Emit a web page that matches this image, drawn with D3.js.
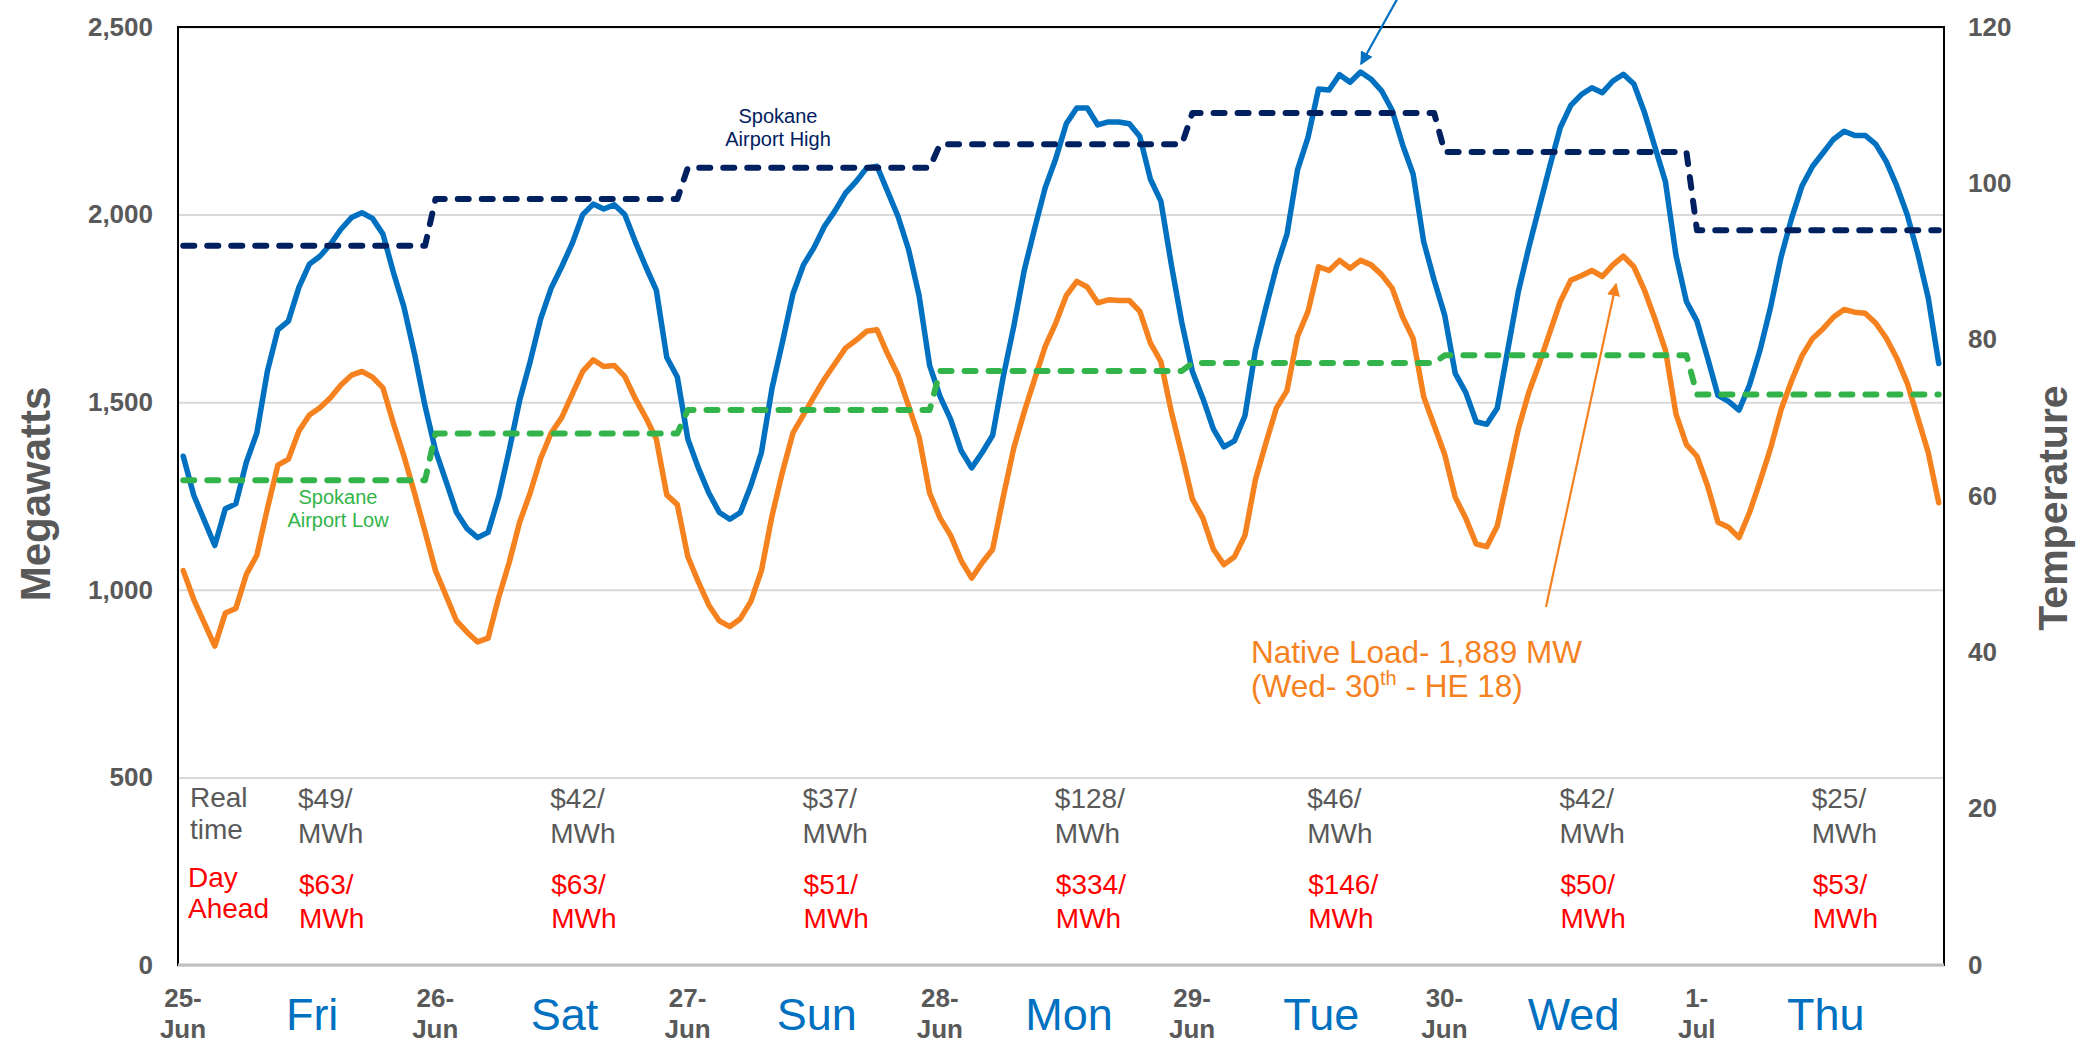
<!DOCTYPE html>
<html>
<head>
<meta charset="utf-8">
<script src="https://cdn.jsdelivr.net/npm/d3@7"></script>
<style>
  body { margin: 0; background: #fff; }
  svg { display: block; font-family: "Liberation Sans", Arial, sans-serif; }
</style>
</head>
<body>
<div id="chart"></div>
<script>
// hourly loads, HE1 of 25-Jun through HE24 of 1-Jul (MW)
const areaLoad = [
  1356,1252,1185,1118,1216,1229,1340,1418,1582,1693,
  1716,1806,1868,1889,1921,1961,1992,2005,1990,1948,
  1845,1753,1629,1490,1371,1289,1206,1163,1139,1153,
  1247,1371,1505,1608,1722,1804,1861,1923,2000,2028,
  2015,2026,2000,1928,1861,1799,1619,1567,1402,1325,
  1258,1206,1188,1206,1278,1366,1536,1660,1789,1866,
  1912,1969,2010,2057,2088,2124,2129,2062,1995,1907,
  1784,1598,1515,1454,1371,1325,1366,1412,1567,1701,
  1851,1964,2072,2149,2242,2284,2284,2239,2247,2247,
  2242,2208,2095,2036,1866,1711,1582,1510,1428,1381,
  1397,1464,1639,1753,1861,1948,2119,2206,2335,2332,
  2373,2353,2380,2361,2330,2278,2186,2108,1928,1825,
  1732,1577,1526,1448,1441,1484,1639,1794,1912,2021,
  2129,2232,2291,2320,2338,2325,2356,2374,2348,2273,
  2180,2088,1892,1768,1716,1619,1518,1502,1479,1546,
  1639,1753,1887,1990,2077,2129,2165,2201,2222,2211,
  2211,2188,2142,2077,2000,1897,1778,1603
];
const nativeLoad = [
  1051,974,912,850,938,950,1041,1092,1216,1332,
  1348,1423,1466,1485,1512,1546,1572,1582,1567,1538,
  1443,1356,1258,1155,1051,984,917,887,861,871,
  979,1072,1180,1258,1350,1418,1459,1521,1582,1613,
  1595,1598,1569,1510,1459,1402,1253,1227,1088,1021,
  959,917,902,923,969,1051,1196,1314,1418,1466,
  1515,1562,1603,1644,1665,1689,1693,1629,1572,1490,
  1407,1258,1191,1145,1078,1031,1072,1108,1247,1377,
  1474,1562,1649,1711,1784,1822,1807,1765,1773,1771,
  1771,1742,1658,1608,1474,1361,1242,1191,1108,1067,
  1088,1145,1294,1392,1485,1531,1675,1742,1861,1851,
  1878,1857,1878,1866,1840,1804,1727,1670,1515,1438,
  1361,1247,1191,1122,1115,1170,1299,1428,1526,1603,
  1686,1768,1825,1837,1851,1835,1866,1889,1861,1799,
  1722,1639,1469,1387,1356,1278,1180,1167,1139,1206,
  1289,1377,1480,1557,1624,1670,1696,1727,1747,1740,
  1737,1711,1671,1618,1551,1459,1366,1232
];

const dates = ['25-Jun','26-Jun','27-Jun','28-Jun','29-Jun','30-Jun','1-Jul'];
const days = ['Fri','Sat','Sun','Mon','Tue','Wed','Thu'];
const highTemp = [92,98,102,105,109,104,94];
const lowTemp = [62,68,71,76,77,78,73];
const realTime = ['$49/','$42/','$37/','$128/','$46/','$42/','$25/'];
const dayAhead = ['$63/','$63/','$51/','$334/','$146/','$50/','$53/'];
const mwTicks = [0,500,1000,1500,2000,2500];
const tempTicks = [0,20,40,60,80,100,120];

const width = 2084, height = 1046;
const plotL = 178, plotR = 1944, plotT = 27, plotB = 965;
const grey = '#595959';

const x = d3.scaleLinear().domain([0, 168]).range([plotL, plotR]);
const y = d3.scaleLinear().domain([0, 2500]).range([plotB, plotT]);
const yT = d3.scaleLinear().domain([0, 120]).range([plotB, plotT]);

const svg = d3.select('#chart').append('svg')
  .attr('width', width).attr('height', height);
svg.append('rect').attr('width', width).attr('height', height).attr('fill', '#fff');

// gridlines
svg.append('g')
  .attr('transform', `translate(${plotL},0)`)
  .call(d3.axisLeft(y).tickValues(mwTicks).tickSize(-(plotR - plotL)).tickFormat(''))
  .call(g => g.select('.domain').remove())
  .call(g => g.selectAll('line').attr('stroke', '#d9d9d9').attr('stroke-width', 2));

// left axis labels
svg.append('g')
  .attr('transform', `translate(${plotL - 25},0)`)
  .call(d3.axisLeft(y).tickValues(mwTicks).tickSize(0).tickFormat(d3.format(',')))
  .call(g => g.select('.domain').remove())
  .call(g => g.selectAll('text')
    .attr('x', 0).attr('fill', grey)
    .style('font-size', '26px').style('font-weight', 'bold')
    .style('font-family', '"Liberation Sans", Arial, sans-serif'));

// right axis labels
svg.append('g')
  .attr('transform', `translate(${plotR + 24},0)`)
  .call(d3.axisRight(yT).tickValues(tempTicks).tickSize(0))
  .call(g => g.select('.domain').remove())
  .call(g => g.selectAll('text')
    .attr('x', 0).attr('fill', grey)
    .style('font-size', '26px').style('font-weight', 'bold')
    .style('font-family', '"Liberation Sans", Arial, sans-serif'));

// plot frame
svg.append('rect')
  .attr('x', plotL).attr('y', plotT)
  .attr('width', plotR - plotL).attr('height', plotB - plotT)
  .attr('fill', 'none').attr('stroke', '#000').attr('stroke-width', 2);
svg.append('line')
  .attr('x1', plotL).attr('x2', plotR).attr('y1', plotB).attr('y2', plotB)
  .attr('stroke', '#bfbfbf').attr('stroke-width', 3);

// load lines
const hours = d3.range(168);
function drawLine(values, scale, color, dash) {
  const line = d3.line()
    .x((d, i) => x(i + 0.5))
    .y(d => scale(d));
  svg.append('path')
    .datum(values)
    .attr('d', line)
    .attr('fill', 'none')
    .attr('stroke', color)
    .attr('stroke-width', dash ? 6 : 5.5)
    .attr('stroke-linejoin', 'round')
    .attr('stroke-linecap', 'round')
    .attr('stroke-dasharray', dash || null);
}
drawLine(areaLoad, y, '#0070c0');
drawLine(nativeLoad, y, '#f5821f');

// daily temperatures carried on every hour of the day
drawLine(hours.map(h => highTemp[Math.floor(h / 24)]), yT, '#002060', '11,13');
drawLine(hours.map(h => lowTemp[Math.floor(h / 24)]), yT, '#33b44a', '11,13');

// axis titles
svg.append('text')
  .attr('transform', 'translate(50,494) rotate(-90)')
  .attr('text-anchor', 'middle')
  .attr('fill', grey).style('font-size', '42px').style('font-weight', 'bold')
  .text('Megawatts');
svg.append('text')
  .attr('transform', 'translate(2067,508) rotate(-90)')
  .attr('text-anchor', 'middle')
  .attr('fill', grey).style('font-size', '41px').style('font-weight', 'bold')
  .text('Temperature');

// date labels
const dateG = svg.append('g');
dates.forEach((d, i) => {
  const parts = d.split('-');
  const t = dateG.append('text')
    .attr('text-anchor', 'middle')
    .attr('fill', grey).style('font-size', '26px').style('font-weight', 'bold');
  t.append('tspan').attr('x', x(i * 24) + 5).attr('y', 1007).text(parts[0] + '-');
  t.append('tspan').attr('x', x(i * 24) + 5).attr('y', 1038).text(parts[1]);
});

// day names
svg.append('g').selectAll('text')
  .data(days)
  .join('text')
  .attr('x', (d, i) => x(i * 24 + 12) + 8)
  .attr('y', 1030)
  .attr('text-anchor', 'middle')
  .attr('fill', '#0070c0')
  .style('font-size', '45px')
  .text(d => d);

// prices
function twoLines(g, tx, ty, l1, l2, color, gap) {
  const t = g.append('text').attr('fill', color).style('font-size', '28px');
  t.append('tspan').attr('x', tx).attr('y', ty).text(l1);
  t.append('tspan').attr('x', tx).attr('y', ty + gap).text(l2);
}
const priceG = svg.append('g');
twoLines(priceG, 190, 807, 'Real', 'time', grey, 32);
twoLines(priceG, 188, 887, 'Day', 'Ahead', '#ff0000', 31);
realTime.forEach((p, i) => twoLines(priceG, x(i * 24) + 120, 808, p, 'MWh', grey, 35));
dayAhead.forEach((p, i) => twoLines(priceG, x(i * 24) + 121, 894, p, 'MWh', '#ff0000', 34));

// annotations
const noteG = svg.append('g').attr('text-anchor', 'middle');
twoLines(noteG, 778, 123, 'Spokane', 'Airport High', '#002060', 23);
twoLines(noteG, 338, 504, 'Spokane', 'Airport Low', '#33b44a', 23);
noteG.selectAll('text').style('font-size', '20px');

const nl = svg.append('text').attr('fill', '#f5821f').style('font-size', '31.5px');
nl.append('tspan').attr('x', 1251).attr('y', 663).text('Native Load- 1,889 MW');
nl.append('tspan').attr('x', 1251).attr('y', 697).text('(Wed- 30');
nl.append('tspan').attr('dy', -12).style('font-size', '20px').text('th');
nl.append('tspan').attr('dy', 12).text(' - HE 18)');

// arrows
const defs = svg.append('defs');
[['blueHead', '#0070c0'], ['orangeHead', '#f5821f']].forEach(([id, c]) => {
  defs.append('marker')
    .attr('id', id).attr('viewBox', '0 0 10 10')
    .attr('refX', 9).attr('refY', 5)
    .attr('markerWidth', 6).attr('markerHeight', 6)
    .attr('markerUnits', 'strokeWidth')
    .attr('orient', 'auto')
    .append('path').attr('d', 'M0,0L10,5L0,10z').attr('fill', c);
});
svg.append('line')
  .attr('x1', 1400).attr('y1', -6).attr('x2', 1361).attr('y2', 64)
  .attr('stroke', '#0070c0').attr('stroke-width', 2.2)
  .attr('marker-end', 'url(#blueHead)');
svg.append('line')
  .attr('x1', 1546).attr('y1', 607).attr('x2', 1616).attr('y2', 284)
  .attr('stroke', '#f5821f').attr('stroke-width', 2.2)
  .attr('marker-end', 'url(#orangeHead)');
</script>
</body>
</html>
